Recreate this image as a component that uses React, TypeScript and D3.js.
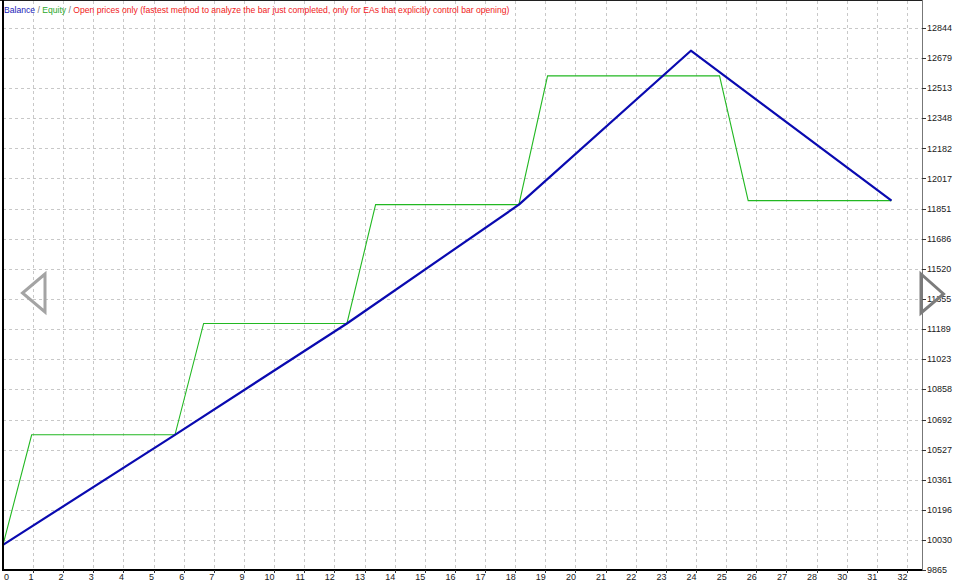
import React from "react";
import * as d3 from "d3";

const W = 965;
const H = 582;

// Balance series: [trade index, value]
const balanceX = [0, 6, 12, 18, 24, 31];
const balanceY = [10003, 10608, 11220, 11873, 12719, 11895];

// Equity series
const equityX = [0, 1, 6, 7, 12, 13, 18, 19, 25, 26, 31];
const equityY = [10003, 10608, 10608, 11220, 11220, 11873, 11873, 12581, 12581, 11895, 11895];

// Axis tick labels
const xTickLabels = ["1", "2", "3", "4", "5", "6", "7", "9", "10", "11", "12", "13", "14", "15", "16", "17", "18", "19", "20", "21", "22", "23", "24", "25", "26", "27", "28", "30", "31", "32"];
const yTickLabels = [9865, 10030, 10196, 10361, 10527, 10692, 10858, 11023, 11189, 11355, 11520, 11686, 11851, 12017, 12182, 12348, 12513, 12679, 12844];

const legendParts = [
  { text: "Balance", color: "#1a1ab8" },
  { text: " / ", color: "#707070" },
  { text: "Equity", color: "#2aa82a" },
  { text: " / ", color: "#707070" },
  { text: "Open prices only (fastest method to analyze the bar just completed, only for EAs that explicitly control bar opening)", color: "#f02020" },
];

const L = 3;
const R = 922;
const T = 0.5;
const B = 570;

export default function App() {
  const x = d3.scaleLinear().domain([0, 31]).range([L, 891.5]);
  const y = d3.scaleLinear().domain([9865, 12844]).range([B, 28]);
  const gx = d3.scaleLinear().domain([0, xTickLabels.length - 1]).range([33, 907]);

  const line = d3
    .line<[number, number]>()
    .x((d) => x(d[0]))
    .y((d) => y(d[1]));

  const balPts = balanceX.map((v, i) => [v, balanceY[i]] as [number, number]);
  const eqPts = equityX.map((v, i) => [v, equityY[i]] as [number, number]);

  const font = "'Liberation Sans', Arial, sans-serif";

  return (
    <div style={{ position: "fixed", left: 0, top: 0, width: W, height: H, background: "#fff" }}>
      <svg width={W} height={H} style={{ display: "block" }} fontFamily={font}>
        <rect x={0} y={0} width={W} height={H} fill="#fff" />
        {/* grid */}
        <g stroke="#c8c8c8" strokeWidth={1} strokeDasharray="3,3" shapeRendering="crispEdges">
          {yTickLabels.map((v, i) =>
            i === 0 ? null : (
              <line key={"h" + i} x1={L} x2={R} y1={Math.round(y(v)) + 0.5} y2={Math.round(y(v)) + 0.5} />
            )
          )}
          {xTickLabels.map((_, i) => (
            <line key={"v" + i} x1={Math.round(gx(i)) + 0.5} x2={Math.round(gx(i)) + 0.5} y1={T} y2={B} />
          ))}
        </g>
        {/* series */}
        <path d={line(eqPts) || ""} fill="none" stroke="#22b822" strokeWidth={1.1} />
        <path d={line(balPts) || ""} fill="none" stroke="#0a0ab0" strokeWidth={2.2} strokeLinejoin="round" />
        {/* frame */}
        <g shapeRendering="crispEdges">
          <line x1={0} x2={R} y1={0.5} y2={0.5} stroke="#202020" />
          <line x1={L} x2={L} y1={0} y2={B + 1} stroke="#000" strokeWidth={2} />
          <line x1={L} x2={R} y1={B} y2={B} stroke="#000" strokeWidth={2} />
          <line x1={R + 0.5} x2={R + 0.5} y1={0} y2={B + 1} stroke="#777" strokeWidth={1} />
          {yTickLabels.map((v, i) => (
            <line key={"yt" + i} x1={R} x2={R + 4} y1={Math.round(y(v)) + 0.5} y2={Math.round(y(v)) + 0.5} stroke="#333" />
          ))}
          {xTickLabels.map((_, i) => (
            <line key={"xt" + i} x1={Math.round(gx(i)) + 0.5} x2={Math.round(gx(i)) + 0.5} y1={B} y2={B + 3} stroke="#333" />
          ))}
        </g>
        {/* y labels */}
        <g fontSize={9} fill="#202020">
          {yTickLabels.map((v, i) => (
            <text key={"yl" + i} x={927} y={y(v)} dy="0.35em">
              {v}
            </text>
          ))}
        </g>
        {/* x labels */}
        <g fontSize={9} fill="#202020">
          <text x={4} y={580}>0</text>
          {xTickLabels.map((t, i) => (
            <text key={"xl" + i} x={gx(i) + 0.5} y={580} textAnchor="end">
              {t}
            </text>
          ))}
        </g>
        {/* legend */}
        <text x={4} y={12.5} fontSize={8.6}>
          {legendParts.map((p, i) => (
            <tspan key={i} fill={p.color} style={{ whiteSpace: "pre" }}>
              {p.text}
            </tspan>
          ))}
        </text>
        {/* navigation arrows */}
        <polygon points="45,274 22.5,293 45,312" fill="none" stroke="#a4a4a4" strokeWidth={3} />
        <polygon points="921,274 943.5,294 921,313" fill="none" stroke="#7c7c7c" strokeWidth={3} />
      </svg>
    </div>
  );
}
